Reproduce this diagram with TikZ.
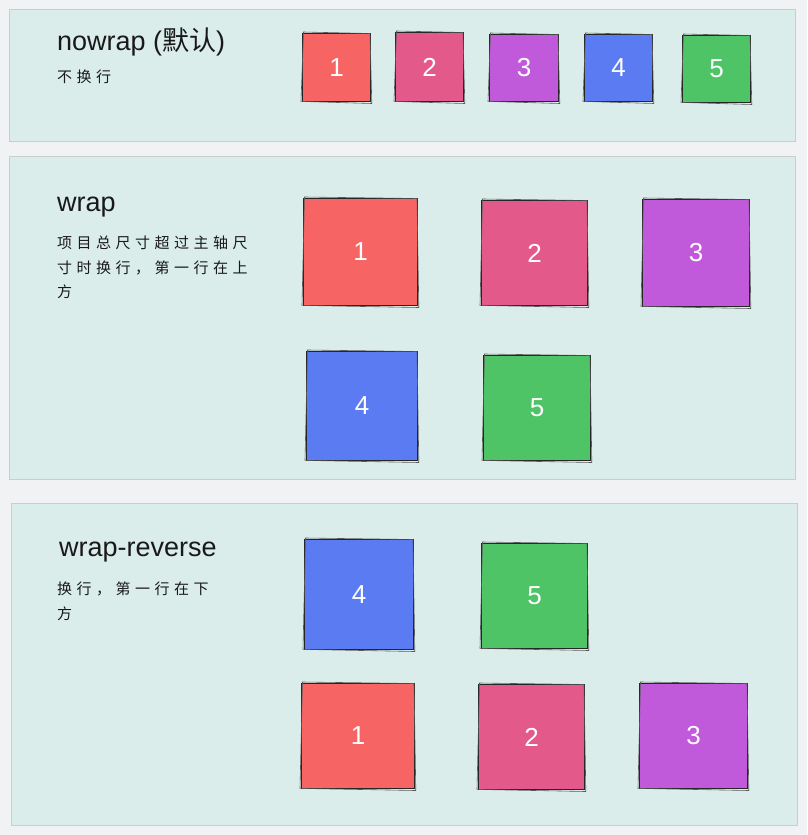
\documentclass[tikz,border=0pt]{standalone}
\usepackage{fontspec}
\setmainfont{Liberation Sans}
\newfontfamily\cjk{Noto Sans CJK SC}
\newfontfamily\cjknote[LetterSpace=30]{Noto Sans CJK SC}
\definecolor{pagebg}{HTML}{F1F2F4}
\definecolor{panelbg}{HTML}{DAEDEA}
\definecolor{panelline}{HTML}{C9CDCD}
\definecolor{flexred}{HTML}{F76464}
\definecolor{flexpink}{HTML}{E35A8A}
\definecolor{flexpurple}{HTML}{C05ADB}
\definecolor{flexblue}{HTML}{5A7BF2}
\definecolor{flexgreen}{HTML}{4EC466}
% second, slightly shaky stroke round a box
\newcommand\sketchbox[1]{%
  \draw[black!65, line width=0.6pt] ([shift={(1.5,-1)}]#1.north west) -- ([shift={(-1,0.5)}]#1.north east)
    -- ([shift={(0.8,1.5)}]#1.south east) -- ([shift={(-1,-0.6)}]#1.south west) -- cycle;}

\begin{document}
\begin{tikzpicture}[x=1pt, y=-1pt,
	panel/.style={draw=panelline, fill=panelbg, line width=0.8pt, anchor=north west, inner sep=0pt},
	item/.style={draw=black!85, line width=1pt, text=white, anchor=north west, inner sep=0pt, font=\fontsize{26}{26}\selectfont},
	title/.style={anchor=base west, inner sep=0pt, text=black!90, font=\fontsize{27}{30}\selectfont},
	note/.style={anchor=north west, inner sep=0pt, align=left, text=black!90, font=\cjknote\fontsize{15}{24.5}\selectfont}]
	\fill[pagebg] (0,0) rectangle (807,835);
	% the three panels
	\node[panel, minimum width=786pt, minimum height=132pt] (pnowrap) at (9,9) {};
	\node[panel, minimum width=786pt, minimum height=323pt] (pwrap) at (9,156) {};
	\node[panel, minimum width=786pt, minimum height=322pt] (preverse) at (11,503) {};
	% titles and notes
	\node[title] (tnowrap) at (57,50) {nowrap ({\cjk 默认})};
	\node[note] (dnowrap) at (57,70) {不换行};
	\node[title] (twrap) at (57,211) {wrap};
	\node[note] (dwrap) at (57,236) {项目总尺寸超过主轴尺\\寸时换行，第一行在上\\方};
	\node[title] (treverse) at (59,556) {wrap-reverse};
	\node[note] (dreverse) at (57,582) {换行，第一行在下\\方};
	% flex items
	\foreach \n/\lab/\x/\y/\w/\h/\c in {nw1/1/302/33/68/68/flexred, nw2/2/395/32/68/69/flexpink, nw3/3/489/34/69/67/flexpurple, nw4/4/584/34/68/67/flexblue, nw5/5/682/35/68/67/flexgreen,
		wr1/1/303/198/114/107/flexred, wr2/2/481/200/106/105/flexpink, wr3/3/642/199/107/107/flexpurple, wr4/4/306/351/111/109/flexblue, wr5/5/483/355/107/105/flexgreen,
		rv4/4/304/539/109/110/flexblue, rv5/5/481/543/106/105/flexgreen, rv1/1/301/683/113/105/flexred, rv2/2/478/684/106/105/flexpink, rv3/3/639/683/108/105/flexpurple} {
		\node[item, fill=\c, minimum width=\w pt, minimum height=\h pt] (\n) at (\x,\y) {\lab};
		\sketchbox{\n}
	}
\end{tikzpicture}
\end{document}
